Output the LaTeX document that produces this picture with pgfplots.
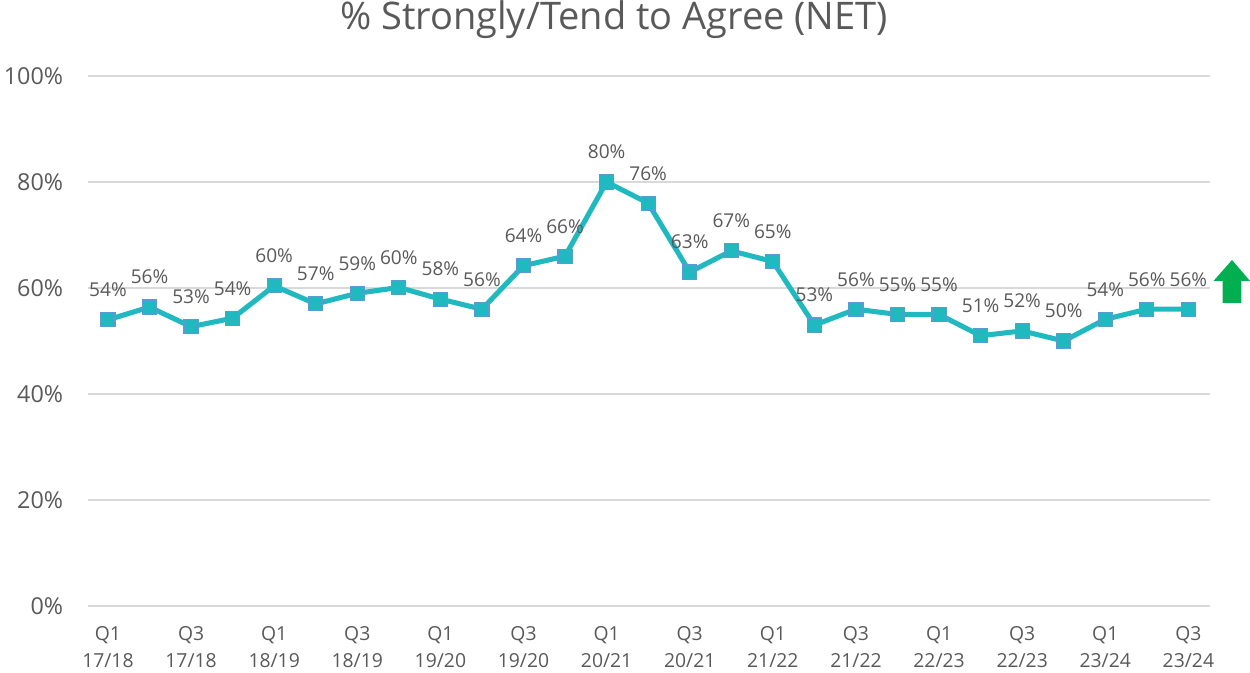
\documentclass[border=0pt]{standalone}
\usepackage{fontspec}
\setmainfont{Open Sans}
\usepackage{pgfplots}
\pgfplotsset{compat=1.18}
\definecolor{txt}{HTML}{595959}
\definecolor{teal}{RGB}{31,185,191}
\definecolor{edge}{RGB}{91,155,213}
\definecolor{gridc}{HTML}{D9D9D9}
\definecolor{arrowg}{HTML}{00B050}
\begin{document}
\begin{tikzpicture}
\begin{axis}[
  at={(0,0)}, anchor=south west,
  scale only axis,
  width=841.5pt, height=397.5pt,
  xmin=-0.48, xmax=26.52,
  ymin=0, ymax=100,
  ytick={0,20,40,60,80,100},
  yticklabel={\pgfmathprintnumber{\tick}\%},
  /pgf/number format/assume math mode=true,
  xtick={0,2,...,26},
  xticklabels={{Q1\\17/18},{Q3\\17/18},{Q1\\18/19},{Q3\\18/19},{Q1\\19/20},{Q3\\19/20},{Q1\\20/21},{Q3\\20/21},{Q1\\21/22},{Q3\\21/22},{Q1\\22/23},{Q3\\22/23},{Q1\\23/24},{Q3\\23/24}},
  xticklabel style={align=center, anchor=north, inner sep=0pt, yshift=-15.5pt, font=\fontsize{14.5}{20}\selectfont, text=txt},
  yticklabel style={anchor=east, inner sep=0pt, xshift=-18.5pt, font=\fontsize{17.5}{20}\selectfont, text=txt},
  axis line style={draw=none},
  major tick length=0pt,
  ymajorgrids,
  major grid style={draw=gridc, line width=0.9pt},
  clip=false,
  nodes near coords={\pgfmathprintnumber[fixed,precision=0]{\pgfplotspointmeta}\%},
  every node near coord/.append style={anchor=center, yshift=22.5pt, font=\fontsize{14.3}{17}\selectfont, text=txt},
]
\addplot[color=teal, line width=3.8pt, mark=square*, mark size=5.3pt,
  mark options={fill=teal, draw=edge, line width=0.8pt}]
  table[x=x, y=y] {
x y
0 54.0
1 56.4
2 52.7
3 54.3
4 60.4
5 57.0
6 59.0
7 60.1
8 57.9
9 56.0
10 64.2
11 66.0
12 80.0
13 76.0
14 63.0
15 67.0
16 65.0
17 53.0
18 56.0
19 55.0
20 55.0
21 51.0
22 51.9
23 50.0
24 54.1
25 56.0
26 56.0
};
\end{axis}
\node[text=txt, font=\fontsize{28.5}{33}\selectfont] at (394.5pt,440pt) {\% Strongly/Tend to Agree (NET)};
\fill[arrowg] (858pt,259.5pt) -- (871.5pt,243.75pt) -- (865.1pt,243.75pt) -- (865.1pt,227.25pt) -- (850.9pt,227.25pt) -- (850.9pt,243.75pt) -- (844.1pt,243.75pt) -- cycle;
\pgfresetboundingbox
\path[use as bounding box] (-66pt,-50.25pt) rectangle (871.5pt,454.5pt);
\end{tikzpicture}
\end{document}
